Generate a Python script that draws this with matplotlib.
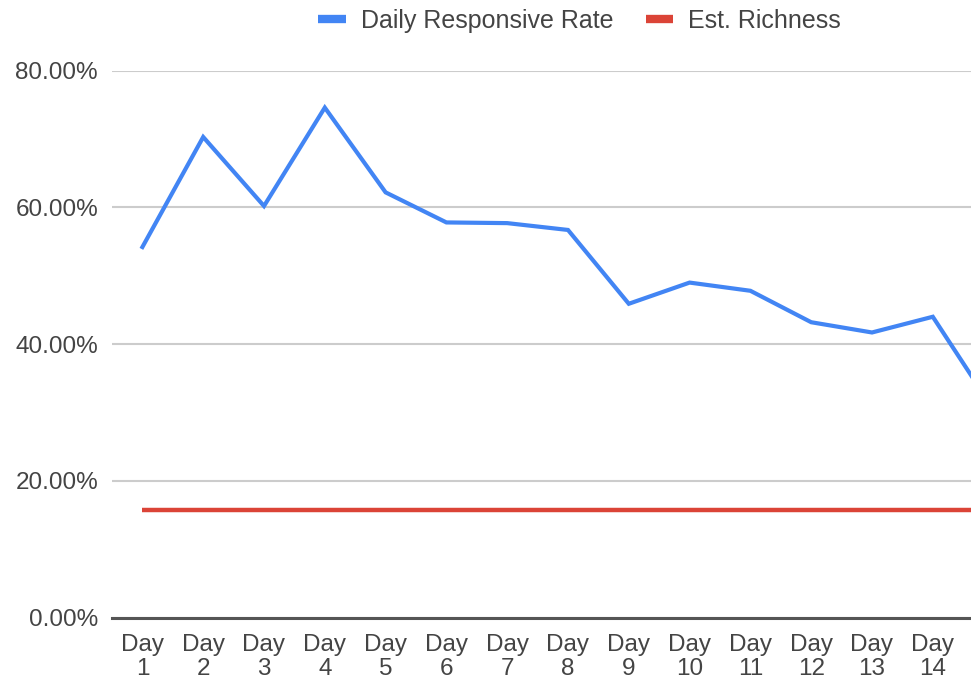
import matplotlib.pyplot as plt
from matplotlib.lines import Line2D
from matplotlib.ticker import FuncFormatter

days = [f'Day\n{i}' for i in range(1, 16)]
responsive_rate = [0.542, 0.703, 0.602, 0.746, 0.622, 0.578, 0.577, 0.567,
                   0.459, 0.490, 0.478, 0.432, 0.417, 0.440, 0.304]
est_richness = [0.158] * 15
y_ticks = [0.0, 0.2, 0.4, 0.6, 0.8]

BLUE = '#4285F4'
RED = '#DB4437'
TEXT = '#444444'

plt.rcParams['font.family'] = ['Liberation Sans', 'DejaVu Sans']

W, H = 971, 678
fig = plt.figure(figsize=(W / 100, H / 100), dpi=100)
# plot area runs past the right edge, the reference is cropped there
left, right = 112 / W, 1024 / W
bottom, top = (H - 617.5) / H, (H - 70.7) / H
ax = fig.add_axes([left, bottom, right - left, top - bottom])

x = list(range(1, len(days) + 1))
ax.plot(x, est_richness, color=RED, lw=3.2, solid_capstyle='butt', zorder=3)
ax.plot(x, responsive_rate, color=BLUE, lw=3.0, solid_joinstyle='miter',
        zorder=4)

ax.set_xlim(0.5, len(days) + 0.5)
ax.set_ylim(0, 0.8)
ax.set_xticks(x)
ax.set_xticklabels(days, linespacing=1.08)
ax.set_yticks(y_ticks)
ax.yaxis.set_major_formatter(FuncFormatter(lambda v, _: f'{v * 100:.2f}%'))

ax.grid(axis='y', color='#cccccc', lw=1.5)
ax.set_axisbelow(True)
for side in ['left', 'right', 'top']:
    ax.spines[side].set_visible(False)
ax.spines['bottom'].set_color('#555555')
ax.spines['bottom'].set_linewidth(2.2)
ax.spines['bottom'].set_zorder(5)
ax.tick_params(axis='both', length=0, labelsize=17.5, colors=TEXT)
ax.tick_params(axis='y', pad=10)
ax.tick_params(axis='x', pad=12)

handles = [Line2D([], [], color=BLUE, lw=6, solid_capstyle='butt'),
           Line2D([], [], color=RED, lw=6, solid_capstyle='butt')]
fig.legend(handles, ['Daily Responsive Rate', 'Est. Richness'],
           loc='center', bbox_to_anchor=(579.5 / W, 1 - 21 / H), ncol=2,
           frameon=False, fontsize=18, labelcolor=TEXT, handlelength=1.1,
           handletextpad=0.6, columnspacing=1.3)

fig.savefig('out.png', dpi=100)
